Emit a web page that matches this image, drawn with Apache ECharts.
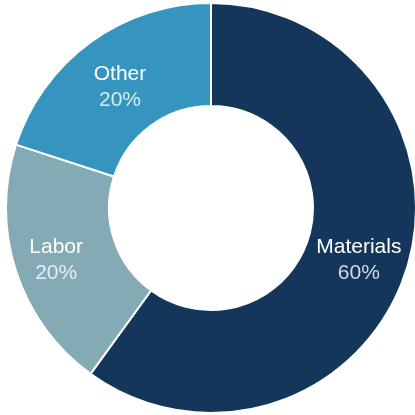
<!DOCTYPE html>
<html><head><meta charset="utf-8">
<script src="https://cdn.jsdelivr.net/npm/echarts@6/dist/echarts.min.js"></script>
<style>html,body{margin:0;padding:0;background:#fff}#c{width:415px;height:415px}</style>
</head><body><div id="c"></div>
<script>
const categories = ['Materials', 'Labor', 'Other'];
const values = [60, 20, 20];
const colors = ['#14365a', '#84aab5', '#3595bf'];
const labelOffsets = [[-1, 4], [-6, 4], [1, 6]];

const font = 'Liberation Sans, Arial, sans-serif';
const chart = echarts.init(document.getElementById('c'), null, {renderer: 'canvas'});
chart.setOption({
  animation: false,
  series: [{
    type: 'pie',
    center: [211, 208],
    radius: [102, 205],
    startAngle: 90,
    clockwise: true,
    itemStyle: {borderColor: '#fff', borderWidth: 2},
    label: {
      show: true,
      position: 'inside',
      fontFamily: font,
      formatter: p => '{n|' + p.name + '}\n{v|' + p.value + '%}',
      rich: {
        n: {color: '#ffffff', fontSize: 21, lineHeight: 26, fontFamily: font},
        v: {color: 'rgba(255,255,255,0.8)', fontSize: 21, lineHeight: 26, fontFamily: font}
      }
    },
    labelLine: {show: false},
    data: categories.map((c, i) => ({
      name: c, value: values[i],
      itemStyle: {color: colors[i]},
      label: {offset: labelOffsets[i]}
    }))
  }]
});
</script></body></html>
